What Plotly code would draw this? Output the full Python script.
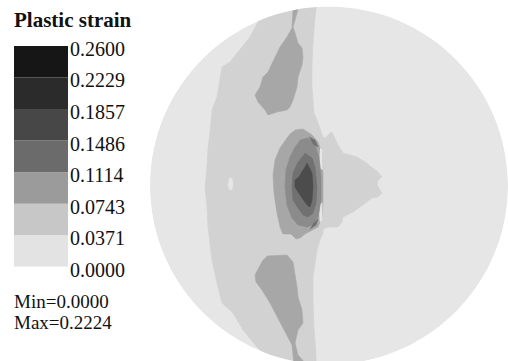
import plotly.graph_objects as go

# ---------------- data ----------------
levels = [0.0000, 0.0371, 0.0743, 0.1114, 0.1486, 0.1857, 0.2229, 0.2600]
tick_labels = ["0.0000", "0.0371", "0.0743", "0.1114", "0.1486", "0.1857", "0.2229", "0.2600"]
legend_colors = ["#e3e3e3", "#c7c7c7", "#9b9b9b", "#6b6b6b", "#474747", "#2b2b2b", "#161616"]
# rendered (lit) colours of the contour bands on the disk, by band index
disk_colors = ["#e6e6e6", "#d2d2d2", "#a7a7a7", "#8b8b8b", "#717171", "#4c4c4c"]
min_value = 0.0000
max_value = 0.2224

# disk outline (image pixel coordinates)
disk_cx, disk_cy, disk_r = 329, 185.5, 179

# contour band polygons (image pixel coordinates)
band1_x = [262, 260, 250, 240, 230, 222, 220, 217, 212, 210, 208, 207, 205, 207, 208, 210, 212, 217, 222, 233, 243, 257, 263, 268,
           316, 316, 314, 313, 313, 315, 317, 320, 323, 323, 325, 330, 338, 342, 343, 347, 353, 360, 367, 372, 378, 382, 380, 377,
           378, 382, 378, 372, 365, 357, 350, 343, 338, 335, 332, 330, 325, 323, 320, 317, 314, 313, 312, 312, 313, 315, 316, 317]
band1_y = [2, 18, 37, 50, 62, 67, 80, 97, 110, 133, 147, 167, 187, 207, 227, 247, 260, 283, 303, 313, 330, 347, 353, 364,
           364, 355, 327, 300, 277, 263, 250, 240, 233, 230, 228, 227, 227, 222, 217, 215, 212, 207, 202, 198, 197, 193, 190, 185,
           180, 177, 172, 167, 162, 157, 155, 153, 145, 138, 132, 133, 138, 137, 128, 120, 113, 100, 87, 67, 43, 17, 9, 0]

band2_top_x = [296, 293, 292, 287, 280, 275, 268, 263, 260, 255, 258, 265, 268, 277, 287, 290, 293, 297, 298, 302, 303, 302, 298, 295, 293, 297, 300]
band2_top_y = [0, 10, 28, 37, 47, 58, 72, 77, 87, 95, 102, 110, 115, 112, 110, 107, 100, 87, 77, 65, 57, 48, 43, 33, 27, 13, 0]

band2_bot_x = [267, 287, 293, 295, 297, 298, 302, 303, 298, 295, 298, 306, 294, 292, 285, 278, 270, 262, 256, 255, 260, 263]
band2_bot_y = [256, 255, 262, 273, 287, 297, 310, 323, 330, 343, 355, 364, 364, 345, 332, 318, 303, 290, 282, 275, 265, 260]

ring2_x = [295, 303, 312, 318, 322, 323, 323, 322, 318, 312, 305, 300, 296, 291, 283, 280, 277, 274, 273, 275, 280, 287, 291]
ring2_y = [130, 129, 135, 142, 153, 173, 200, 217, 227, 230, 234, 238, 239, 234, 234, 227, 213, 193, 175, 160, 148, 138, 133]

gap_top_x = [320, 322, 322.5, 320.5, 319.5]
gap_top_y = [148, 150, 170, 168, 158]
gap_bot_x = [320, 322, 322, 320, 319.5]
gap_bot_y = [205, 203, 220, 222, 212]

ring3_x = [300, 308, 315, 319, 321, 321, 318, 313, 307, 298, 292, 287, 285, 286, 290, 295]
ring3_y = [140, 138, 145, 157, 177, 200, 217, 225, 227, 225, 218, 205, 187, 170, 157, 147]

ring4_x = [305, 312, 315, 317, 316, 313, 308, 303, 298, 293, 292, 293, 298]
ring4_y = [153, 158, 167, 187, 203, 213, 217, 215, 208, 200, 187, 173, 162]
nub_top_x = [309, 315, 318, 313]
nub_top_y = [137, 140, 147, 144]
nub_bot_x = [310, 316, 318, 313]
nub_bot_y = [229, 225, 219, 224]

ring5_x = [307, 312, 313, 312, 310, 307, 300, 295, 295, 299, 303]
ring5_y = [163, 173, 187, 200, 207, 205, 195, 187, 180, 177, 170]

spot_x = [229, 232, 233, 232, 229, 228]
spot_y = [179, 178, 184, 190, 189, 184]

regions = [
    (1, band1_x, band1_y),
    (2, band2_top_x, band2_top_y),
    (2, band2_bot_x, band2_bot_y),
    (2, ring2_x, ring2_y),
    (0, gap_top_x, gap_top_y),
    (0, gap_bot_x, gap_bot_y),
    (3, ring3_x, ring3_y),
    (4, ring4_x, ring4_y),
    (4, nub_top_x, nub_top_y),
    (4, nub_bot_x, nub_bot_y),
    (5, ring5_x, ring5_y),
    (0, spot_x, spot_y),
]

W, H = 508, 361
FONT = "Liberation Serif, Times New Roman, serif"

fig = go.Figure()

for band, xs, ys in regions:
    c = disk_colors[band]
    fig.add_trace(go.Scatter(x=xs, y=ys, mode="lines", fill="toself", fillcolor=c,
                             line=dict(color=c, width=0.6), hoverinfo="skip",
                             showlegend=False, xaxis="x", yaxis="y"))

# colour legend as stacked bands
heights = [levels[i + 1] - levels[i] for i in range(len(levels) - 1)]
fig.add_trace(go.Bar(x=[0] * len(heights), y=heights, base=levels[:-1], width=1,
                     marker=dict(color=legend_colors, line=dict(width=0)),
                     hoverinfo="skip", showlegend=False, xaxis="x2", yaxis="y2"))

# disk background and white mask outside the disk
k = 0.5523
cx, cy, r = disk_cx, disk_cy, disk_r
ell = (f"M{cx - r},{cy} C{cx - r},{cy - k * r} {cx - k * r},{cy - r} {cx},{cy - r} "
       f"C{cx + k * r},{cy - r} {cx + r},{cy - k * r} {cx + r},{cy} "
       f"C{cx + r},{cy + k * r} {cx + k * r},{cy + r} {cx},{cy + r} "
       f"C{cx - k * r},{cy + r} {cx - r},{cy + k * r} {cx - r},{cy} Z")
mask = f"M140,-10 L{W + 20},-10 L{W + 20},{H + 20} L140,{H + 20} Z " + ell

shapes = [
    dict(type="path", path=ell, xref="x", yref="y", fillcolor=disk_colors[0],
         line=dict(width=0), layer="below"),
    dict(type="path", path=mask, xref="x", yref="y", fillcolor="white",
         line=dict(width=0), layer="above", fillrule="evenodd"),
]

annotations = [
    dict(x=12, y=19.5, xref="x", yref="y", text="<b>Plastic strain</b>", showarrow=False,
         xanchor="left", yanchor="middle", font=dict(family=FONT, size=21, color="#111111")),
    dict(x=12, y=301, xref="x", yref="y", text=f"Min={min_value:.4f}", showarrow=False,
         xanchor="left", yanchor="middle", font=dict(family=FONT, size=19, color="#111111")),
    dict(x=12, y=322, xref="x", yref="y", text=f"Max={max_value:.4f}", showarrow=False,
         xanchor="left", yanchor="middle", font=dict(family=FONT, size=19, color="#111111")),
]

fig.update_layout(
    template="none",
    width=W, height=H, margin=dict(l=0, r=0, t=0, b=0, pad=0, autoexpand=False),
    paper_bgcolor="white", plot_bgcolor="white",
    shapes=shapes, annotations=annotations, showlegend=False,
    xaxis=dict(domain=[0, 1], range=[0, W], visible=False, fixedrange=True, automargin=False),
    yaxis=dict(domain=[0, 1], range=[H, 0], visible=False, fixedrange=True, automargin=False),
    xaxis2=dict(domain=[14 / W, 68 / W], range=[-0.5, 0.5], visible=False,
                anchor="y2", fixedrange=True, automargin=False),
    yaxis2=dict(domain=[1 - 266.7 / H, 1 - 46 / H], range=[-1e-6, 0.26 + 1e-6],
                anchor="x2", side="right", tickvals=levels, ticktext=tick_labels,
                ticks="", showgrid=False, zeroline=False, showline=False, automargin=False,
                ticklabelstandoff=1, ticklabelshift=3,
                tickfont=dict(family=FONT, size=20, color="#111111"), fixedrange=True),
)

fig.write_html("out.html", config={"displayModeBar": False, "staticPlot": True},
               post_script="document.body.style.margin='0';document.body.style.padding='0';")
